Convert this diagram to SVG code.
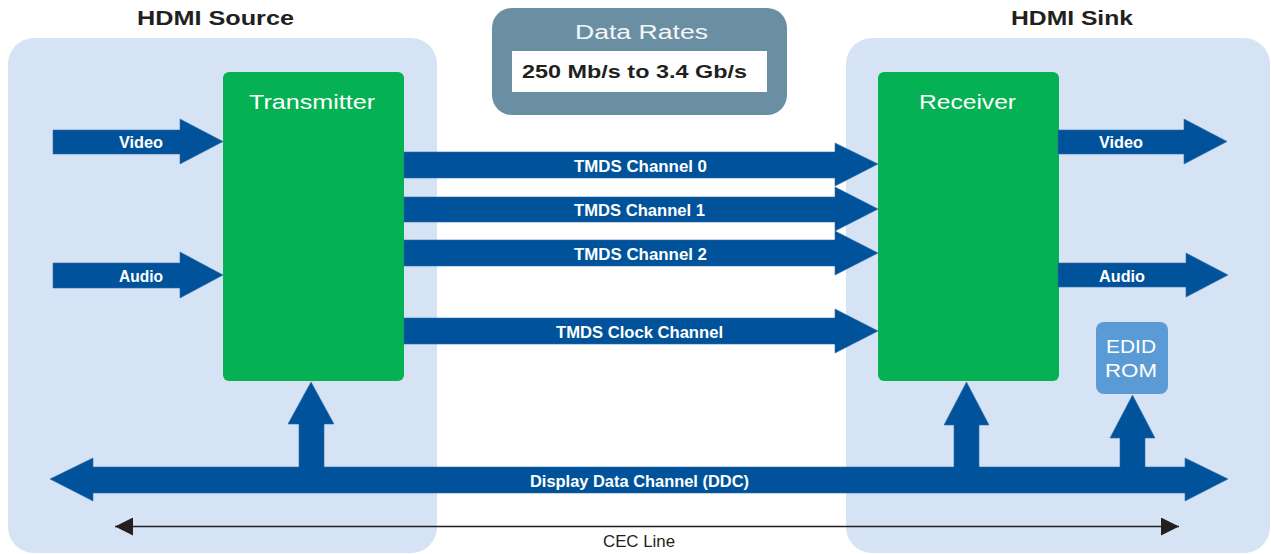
<svg xmlns="http://www.w3.org/2000/svg" width="1271" height="554" viewBox="0 0 1271 554">
<defs>
<style>
.panel{fill:#d6e3f4}
.blk{fill:#05b153}
.arr{fill:#00539a;stroke:#2f6aa8;stroke-width:0.6}
.title{font-family:"Liberation Sans",Arial,sans-serif;font-weight:bold;font-size:20px;fill:#231f20;text-anchor:middle}
.btxt{font-family:"Liberation Sans",Arial,sans-serif;font-size:21px;fill:#ffffff;text-anchor:middle}
.lbl{font-family:"Liberation Sans",Arial,sans-serif;font-weight:bold;font-size:16.5px;fill:#ffffff;text-anchor:middle}
.cec{font-family:"Liberation Sans",Arial,sans-serif;font-size:16px;fill:#231f20;text-anchor:middle}
</style>
<marker id="cecHead" viewBox="0 0 18 18" refX="18" refY="9" markerWidth="18" markerHeight="18" markerUnits="userSpaceOnUse" orient="auto-start-reverse">
<path d="M0,0 L18,9 L0,18 Z" fill="#231f20"/>
</marker>
</defs>

<g id="hdmi-source">
<rect class="panel" x="8" y="38" width="429" height="515" rx="26"/>
<text class="title" x="215.5" y="25" textLength="157" lengthAdjust="spacingAndGlyphs">HDMI Source</text>
</g>
<g id="hdmi-sink">
<rect class="panel" x="846" y="38" width="424" height="515" rx="26"/>
<text class="title" x="1072" y="25" textLength="122" lengthAdjust="spacingAndGlyphs">HDMI Sink</text>
</g>

<g id="data-rates">
<rect x="492" y="8" width="295" height="107" rx="20" fill="#6a8fa3"/>
<rect x="512" y="51" width="255" height="41" fill="#ffffff"/>
<text x="641.5" y="38.5" font-family="Liberation Sans, Arial, sans-serif" font-size="20" fill="#f4f6f8" text-anchor="middle" textLength="133" lengthAdjust="spacingAndGlyphs">Data Rates</text>
<text x="634.5" y="77.5" font-family="Liberation Sans, Arial, sans-serif" font-size="17.5" font-weight="bold" fill="#231f20" text-anchor="middle" textLength="225" lengthAdjust="spacingAndGlyphs">250 Mb/s to 3.4 Gb/s</text>
</g>

<g id="transmitter">
<rect class="blk" x="223" y="72" width="181" height="309" rx="6"/>
<text class="btxt" x="312" y="109" textLength="126" lengthAdjust="spacingAndGlyphs">Transmitter</text>
</g>
<g id="receiver">
<rect class="blk" x="878" y="72" width="181" height="309" rx="6"/>
<text class="btxt" x="967.5" y="109" textLength="97" lengthAdjust="spacingAndGlyphs">Receiver</text>
</g>
<g id="edid-rom">
<rect x="1096" y="322" width="72" height="72" rx="8" fill="#5a9bd5"/>
<text x="1131" y="353" font-family="Liberation Sans, Arial, sans-serif" font-size="19" fill="#ffffff" text-anchor="middle" textLength="50" lengthAdjust="spacingAndGlyphs">EDID</text>
<text x="1131" y="377" font-family="Liberation Sans, Arial, sans-serif" font-size="19" fill="#ffffff" text-anchor="middle" textLength="52" lengthAdjust="spacingAndGlyphs">ROM</text>
</g>

<g id="connectors">
<path class="arr" d="M53,130 H180 V119 L223,141.5 L180,164 V154 H53 Z"/>
<text class="lbl" x="141" y="148" textLength="44" lengthAdjust="spacingAndGlyphs">Video</text>
<path class="arr" d="M53,263 H180 V252 L223,275 L180,298 V288 H53 Z"/>
<text class="lbl" x="141" y="282" textLength="44" lengthAdjust="spacingAndGlyphs">Audio</text>
<path class="arr" d="M1058,130 H1184 V119 L1227,141.5 L1184,164 V154 H1058 Z"/>
<text class="lbl" x="1121" y="148" textLength="44" lengthAdjust="spacingAndGlyphs">Video</text>
<path class="arr" d="M1058,263 H1186 V253 L1228,275 L1186,297 V287 H1058 Z"/>
<text class="lbl" x="1122" y="282" textLength="46" lengthAdjust="spacingAndGlyphs">Audio</text>
<path class="arr" d="M404,152 H835 V143 L878,164 L835,186 V178 H404 Z"/>
<text class="lbl" x="640.5" y="172" textLength="133" lengthAdjust="spacingAndGlyphs">TMDS Channel 0</text>
<path class="arr" d="M404,197 H835 V187 L878,209 L835,231 V222 H404 Z"/>
<text class="lbl" x="639.5" y="216" textLength="131" lengthAdjust="spacingAndGlyphs">TMDS Channel 1</text>
<path class="arr" d="M404,240 H835 V231 L878,253 L835,275 V266 H404 Z"/>
<text class="lbl" x="640.5" y="260" textLength="133" lengthAdjust="spacingAndGlyphs">TMDS Channel 2</text>
<path class="arr" d="M404,318 H835 V309 L878,331 L835,353 V344 H404 Z"/>
<text class="lbl" x="639.5" y="338" textLength="167" lengthAdjust="spacingAndGlyphs">TMDS Clock Channel</text>
<path class="arr" d="M50,479 L93,458 V467 H299 V424 H288 L311,382 L334,424 H324 V467 H954 V425 H944 L966.5,382 L989,425 H979 V467 H1120 V438 H1110 L1132.5,395 L1155,438 H1145 V467 H1185 V458 L1228,479 L1185,501 V493 H93 V501 Z"/>
<text class="lbl" x="639.5" y="487" textLength="219" lengthAdjust="spacingAndGlyphs">Display Data Channel (DDC)</text>
<line x1="115" y1="526.5" x2="1179" y2="526.5" stroke="#231f20" stroke-width="1.5" marker-start="url(#cecHead)" marker-end="url(#cecHead)"/>
<text class="cec" x="639" y="547" textLength="72" lengthAdjust="spacingAndGlyphs">CEC Line</text>
</g>
</svg>
